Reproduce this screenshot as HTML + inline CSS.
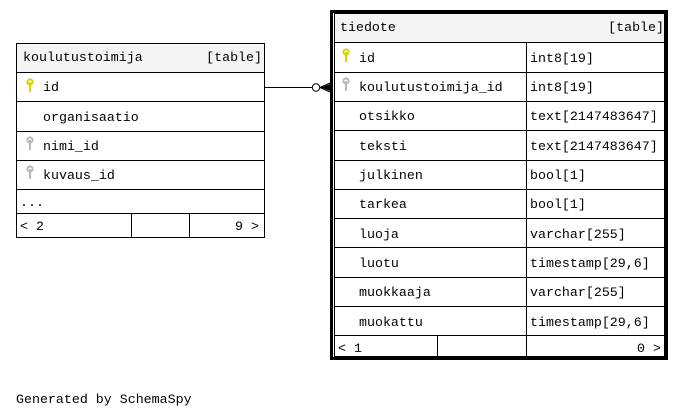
<!DOCTYPE html>
<html><head><meta charset="utf-8"><style>
html,body{margin:0;padding:0;background:#fff;width:685px;height:417px;overflow:hidden}
text{font-family:"Liberation Mono","DejaVu Sans Mono",monospace;font-size:13.3px;fill:#000}
</style></head><body>
<svg width="685" height="417" viewBox="0 0 685 417" xmlns="http://www.w3.org/2000/svg">
<defs>
<g id="kY"><circle cx="0" cy="0" r="2.6" fill="none" stroke="#d4d400" stroke-width="2"/><rect x="-1" y="0" width="2" height="10" fill="#d4d400"/></g>
<g id="kG"><circle cx="0" cy="0" r="2.6" fill="none" stroke="#b8b8b8" stroke-width="2"/><rect x="-1" y="0" width="2" height="10" fill="#b8b8b8"/></g>
</defs>
<!-- left table -->
<rect x="16.5" y="43.5" width="248" height="29" fill="#f4f4f4"/>
<rect x="16.5" y="43.5" width="248" height="194" fill="none" stroke="#000"/>
<g stroke="#000">
<line x1="16" y1="72.5" x2="265" y2="72.5"/>
<line x1="16" y1="101.5" x2="265" y2="101.5"/>
<line x1="16" y1="131.5" x2="265" y2="131.5"/>
<line x1="16" y1="160.5" x2="265" y2="160.5"/>
<line x1="16" y1="189.5" x2="265" y2="189.5"/>
<line x1="16" y1="213.5" x2="265" y2="213.5"/>
<line x1="131.5" y1="213" x2="131.5" y2="237"/>
<line x1="189.5" y1="213" x2="189.5" y2="237"/>
</g>
<text x="23" y="61">koulutustoimija</text>
<text x="262" y="61" text-anchor="end">[table]</text>
<use href="#kY" x="30" y="82"/>
<text x="43" y="91">id</text>
<text x="43" y="121">organisaatio</text>
<use href="#kG" x="30" y="140"/>
<text x="43" y="150">nimi_id</text>
<use href="#kG" x="30" y="169"/>
<text x="43" y="179">kuvaus_id</text>
<text x="20" y="206">...</text>
<text x="20" y="230">&lt; 2</text>
<text x="259" y="230" text-anchor="end">9 &gt;</text>
<!-- connector -->
<line x1="264" y1="87.5" x2="312" y2="87.5" stroke="#000"/>
<circle cx="316" cy="87.5" r="3.7" fill="#fff" stroke="#000"/>
<path d="M320 87.5 L330 83 M320 87.5 L330 92 M320 87.5 L330 87.5" stroke="#000" fill="none"/>
<polygon points="321,87.5 330,84 330,91" fill="#000"/>
<!-- right table -->
<rect x="335" y="14" width="330" height="28" fill="#f4f4f4"/>
<rect x="331.5" y="11.5" width="335" height="347" fill="none" stroke="#000" stroke-width="3"/>
<rect x="334.5" y="13.5" width="330" height="343" fill="none" stroke="#000"/>
<g stroke="#000">
<line x1="334" y1="42.5" x2="665" y2="42.5"/>
<line x1="334" y1="72.5" x2="665" y2="72.5"/>
<line x1="334" y1="101.5" x2="665" y2="101.5"/>
<line x1="334" y1="130.5" x2="665" y2="130.5"/>
<line x1="334" y1="160.5" x2="665" y2="160.5"/>
<line x1="334" y1="189.5" x2="665" y2="189.5"/>
<line x1="334" y1="218.5" x2="665" y2="218.5"/>
<line x1="334" y1="247.5" x2="665" y2="247.5"/>
<line x1="334" y1="277.5" x2="665" y2="277.5"/>
<line x1="334" y1="306.5" x2="665" y2="306.5"/>
<line x1="334" y1="335.5" x2="665" y2="335.5"/>
<line x1="526.5" y1="42" x2="526.5" y2="357"/>
<line x1="437.5" y1="335" x2="437.5" y2="357"/>
</g>
<text x="340" y="31">tiedote</text>
<text x="664" y="31" text-anchor="end">[table]</text>
<use href="#kY" x="346" y="52"/>
<text x="359" y="62">id</text>
<use href="#kG" x="346" y="81"/>
<text x="359" y="91">koulutustoimija_id</text>
<text x="359" y="120">otsikko</text>
<text x="359" y="150">teksti</text>
<text x="359" y="179">julkinen</text>
<text x="359" y="208">tarkea</text>
<text x="359" y="238">luoja</text>
<text x="359" y="267">luotu</text>
<text x="359" y="296">muokkaaja</text>
<text x="359" y="326">muokattu</text>
<text x="530" y="62">int8[19]</text>
<text x="530" y="91">int8[19]</text>
<text x="530" y="120">text[2147483647]</text>
<text x="530" y="150">text[2147483647]</text>
<text x="530" y="179">bool[1]</text>
<text x="530" y="208">bool[1]</text>
<text x="530" y="238">varchar[255]</text>
<text x="530" y="267">timestamp[29,6]</text>
<text x="530" y="296">varchar[255]</text>
<text x="530" y="326">timestamp[29,6]</text>
<text x="338" y="352">&lt; 1</text>
<text x="661" y="352" text-anchor="end">0 &gt;</text>
<text x="16" y="403">Generated by SchemaSpy</text>
</svg>
</body></html>
